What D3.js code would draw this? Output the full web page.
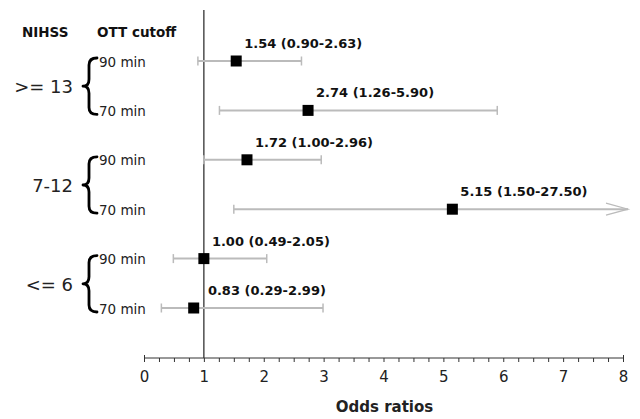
<!doctype html>
<html lang="en">
<head>
    <meta charset="UTF-8" />
    <title>Odds ratios by NIHSS and OTT cutoff</title>
    <script src="https://d3js.org/d3.v7.min.js"></script>
    <style>
        body, html {
            margin: 0;
            padding: 0;
            background: #fff;
        }
        svg {
            display: block;
            font-family: "DejaVu Sans", "Liberation Sans", Arial, sans-serif;
        }
    </style>
</head>
<body>
    <svg id="chart" width="640" height="419"></svg>
    <script>
        // data
        const groups = [">= 13", "7-12", "<= 6"];
        const cutoffs = ["90 min", "70 min"];
        const estimates = [1.54, 2.74, 1.72, 5.15, 1.00, 0.83];
        const lowers = [0.90, 1.26, 1.00, 1.50, 0.49, 0.29];
        const uppers = [2.63, 5.90, 2.96, 27.50, 2.05, 2.99];
        const xTicks = [0, 1, 2, 3, 4, 5, 6, 7, 8];

        const svg = d3.select("#chart");
        const xMax = 8;

        const x = d3.scaleLinear().domain([0, xMax]).range([144, 623]);
        const y = d3.scaleLinear().domain([0, 5]).range([61, 308]);
        const axisY = 358;

        const rows = estimates.map((est, i) => ({
            est: est,
            lo: lowers[i],
            hi: uppers[i],
            cutoff: cutoffs[i % 2],
            i: i
        }));

        // reference line at OR = 1
        svg.append("line")
            .attr("x1", x(1)).attr("x2", x(1))
            .attr("y1", 10).attr("y2", axisY)
            .attr("stroke", "#222").attr("stroke-width", 1.2);

        // x axis, minor ticks every 0.25
        const axis = d3.axisBottom(x)
            .tickValues(d3.range(0, xMax + 0.01, 0.25))
            .tickSize(4)
            .tickFormat(d => xTicks.includes(d) ? d : "");
        const gx = svg.append("g")
            .attr("transform", `translate(0,${axisY})`)
            .call(axis);
        gx.attr("font-family", null);
        gx.select(".domain").attr("stroke", "#333").attr("d", `M${x(0)},0H${x(xMax)}`);
        gx.selectAll(".tick line").attr("stroke", "#333");
        gx.selectAll(".tick text")
            .attr("font-size", 15)
            .attr("fill", "#222")
            .attr("dy", "1.15em");
        gx.selectAll(".tick")
            .filter(d => d === 0 || d === xMax)
            .select("line").attr("y1", -3);

        svg.append("text")
            .attr("x", x(4) + 1).attr("y", 412)
            .attr("text-anchor", "middle")
            .attr("font-size", 15).attr("font-weight", "bold")
            .attr("fill", "#222")
            .text("Odds ratios");

        // confidence intervals
        const ci = svg.append("g");
        rows.forEach(d => {
            const yy = y(d.i);
            const clipped = d.hi > xMax;
            const xEnd = clipped ? x(xMax) + 5 : x(d.hi);
            ci.append("line")
                .attr("x1", x(d.lo)).attr("x2", xEnd)
                .attr("y1", yy).attr("y2", yy)
                .attr("stroke", "#bbb").attr("stroke-width", 2);
            ci.append("line")
                .attr("x1", x(d.lo)).attr("x2", x(d.lo))
                .attr("y1", yy - 4.5).attr("y2", yy + 4.5)
                .attr("stroke", "#bbb").attr("stroke-width", 1.5);
            if (clipped) {
                ci.append("path")
                    .attr("d", `M${xEnd - 22},${yy - 6}L${xEnd},${yy}L${xEnd - 22},${yy + 6}`)
                    .attr("fill", "none")
                    .attr("stroke", "#bbb").attr("stroke-width", 1.2);
            } else {
                ci.append("line")
                    .attr("x1", xEnd).attr("x2", xEnd)
                    .attr("y1", yy - 4.5).attr("y2", yy + 4.5)
                    .attr("stroke", "#bbb").attr("stroke-width", 1.5);
            }
            ci.append("rect")
                .attr("x", x(d.est) - 5.5).attr("y", yy - 5.5)
                .attr("width", 11).attr("height", 11)
                .attr("fill", "#000");
            ci.append("text")
                .attr("x", Math.max(x(d.est) + 8, x(1) + 4))
                .attr("y", yy - 13)
                .attr("font-size", 13).attr("font-weight", "bold")
                .attr("fill", "#111")
                .text(`${d.est.toFixed(2)} (${d.lo.toFixed(2)}-${d.hi.toFixed(2)})`);
        });

        // left-hand labels
        svg.append("text")
            .attr("x", 22).attr("y", 37)
            .attr("font-size", 13.5).attr("font-weight", "bold").attr("fill", "#111")
            .text("NIHSS");
        svg.append("text")
            .attr("x", 97).attr("y", 37)
            .attr("font-size", 13.5).attr("font-weight", "bold").attr("fill", "#111")
            .text("OTT cutoff");

        rows.forEach(d => {
            svg.append("text")
                .attr("x", 99).attr("y", y(d.i) + 5.5)
                .attr("font-size", 13.5).attr("fill", "#222")
                .text(d.cutoff);
        });

        function brace(xr, y0, y1) {
            const m = (y0 + y1) / 2;
            const xl = xr - 14;
            const xm = xr - 8;
            return `M${xr},${y0}` +
                `Q${xm},${y0} ${xm},${y0 + 7}` +
                `L${xm},${m - 7}` +
                `Q${xm},${m} ${xl},${m}` +
                `Q${xm},${m} ${xm},${m + 7}` +
                `L${xm},${y1 - 7}` +
                `Q${xm},${y1} ${xr},${y1}`;
        }

        groups.forEach((g, k) => {
            const y0 = y(2 * k) - 3;
            const y1 = y(2 * k + 1) + 4;
            svg.append("path")
                .attr("d", brace(97, y0, y1))
                .attr("fill", "none")
                .attr("stroke", "#000").attr("stroke-width", 2.8)
                .attr("stroke-linejoin", "round")
                .attr("stroke-linecap", "round");
            svg.append("text")
                .attr("x", 73).attr("y", (y0 + y1) / 2 + 7)
                .attr("text-anchor", "end")
                .attr("font-size", 18).attr("fill", "#222")
                .text(g);
        });
    </script>
</body>
</html>
